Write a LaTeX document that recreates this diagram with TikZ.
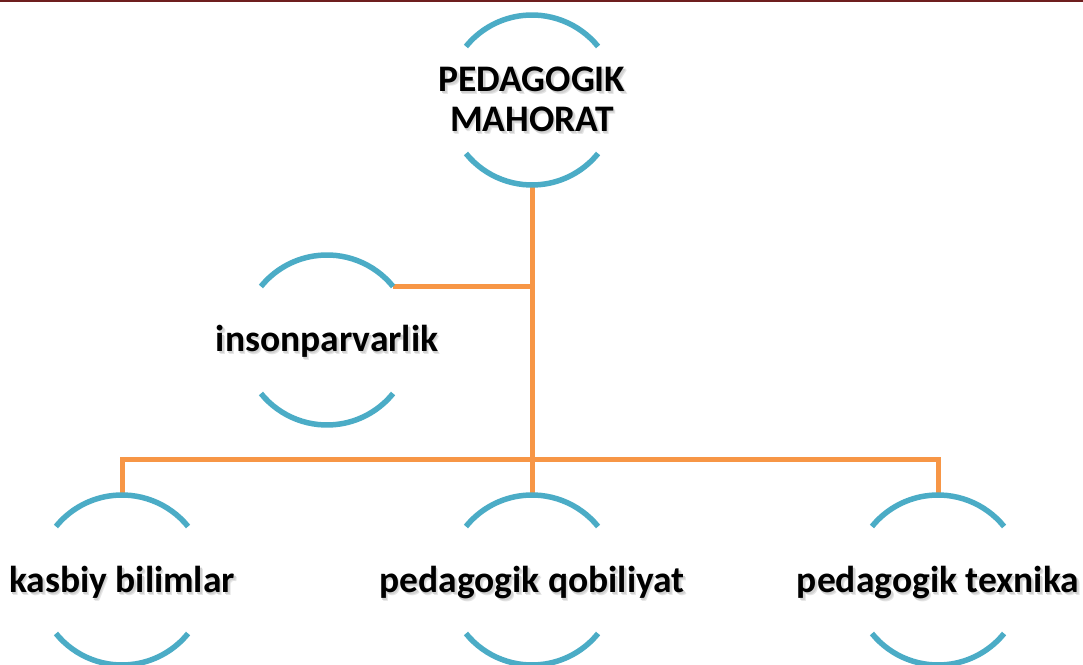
\documentclass[tikz,border=0pt]{standalone}
\usepackage{fontspec, tkz-euclide}
\setmainfont{Carlito}
\definecolor{ringblue}{HTML}{4BACC6}
\definecolor{linkorange}{HTML}{F79646}
\definecolor{topred}{HTML}{6E1E1E}
\newcommand{\txtshadow}[1]{\makebox[0pt][l]{\hspace{2.5pt}\raisebox{-3pt}{\textcolor{black!10}{#1}}}\makebox[0pt][l]{\hspace{1.5pt}\raisebox{-2pt}{\textcolor{black!18}{#1}}}#1}
\newcommand{\ringtext}[1]{\makebox[0pt]{\raisebox{-4pt}[\height][\depth]{\begin{tabular}{@{}c@{}}#1\end{tabular}}}}
\tikzset{
  ring node/.style={circle, minimum size=170pt, inner sep=0pt, outer sep=0pt,
    font=\fontsize{37.5}{40}\selectfont\bfseries},
  ring/.style={ringblue, line width=5.5pt},
  link/.style={linkorange, line width=5pt}
}

\begin{document}
\begin{tikzpicture}[x=1pt,y=1pt]
\useasboundingbox (0,0) rectangle (1083,664);
\draw[topred, line width=3pt] (0,663) -- (1083,663);
\tkzDefPoints{532/564/M, 327/324/I, 122/84/K, 532/84/Q, 938/84/T}
\node[ring node] (mahorat) at (M) {\ringtext{\txtshadow{PEDAGOGIK}\\\txtshadow{MAHORAT}}};
\node[ring node] (inson) at (I) {\ringtext{\txtshadow{insonparvarlik}}};
\node[ring node] (bilim) at (K) {\ringtext{\txtshadow{kasbiy bilimlar}}};
\node[ring node] (qobil) at (Q) {\ringtext{\txtshadow{pedagogik qobiliyat}}};
\node[ring node] (texnika) at (T) {\ringtext{\txtshadow{pedagogik texnika}}};
\draw[link] (mahorat.south) -- (qobil.north);
\draw[link] (inson.39) -- (inson.39 -| mahorat.south);
\draw[link] (bilim.north) |- ([yshift=35pt]qobil.north) -| (texnika.north);
\foreach \n in {mahorat, inson, bilim, qobil, texnika} {
  \draw[ring] (\n.39) arc[start angle=39, end angle=141, radius=85pt];
  \draw[ring] (\n.219) arc[start angle=219, end angle=321, radius=85pt];
}
\end{tikzpicture}
\end{document}
